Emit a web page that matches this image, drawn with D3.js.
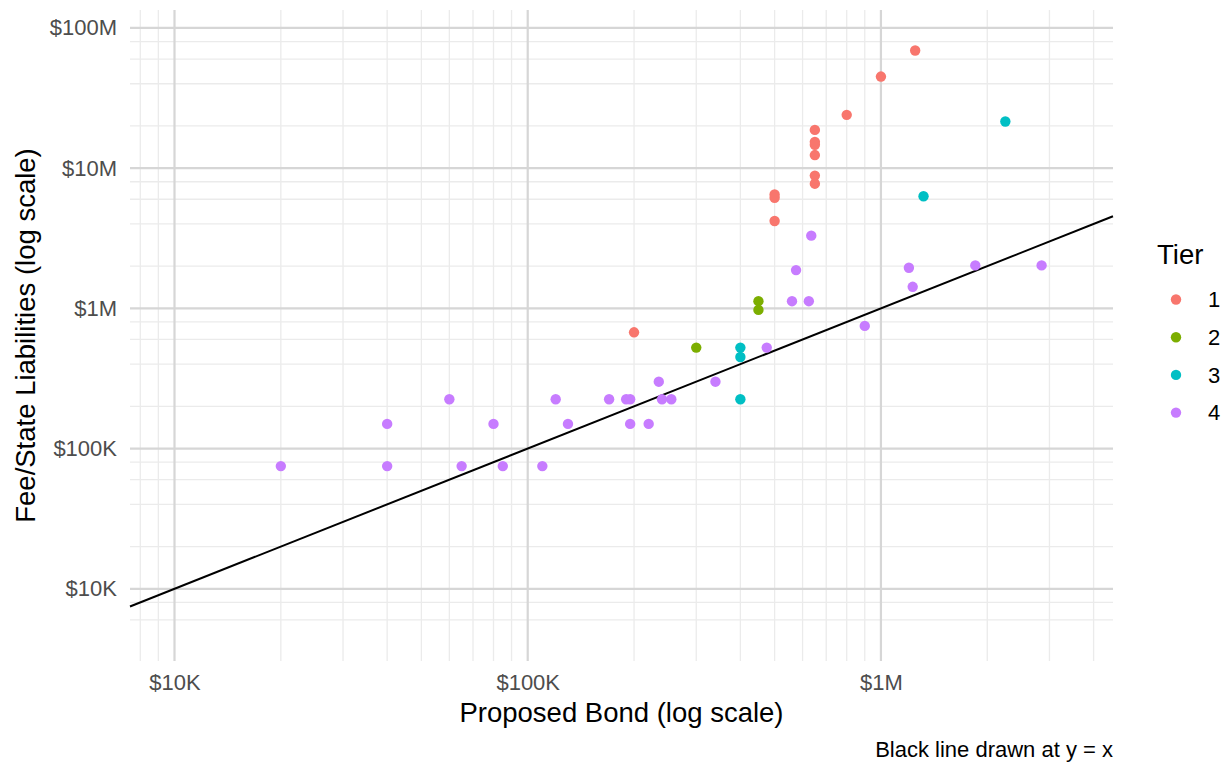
<!DOCTYPE html>
<html lang="en">
<head>
  <meta charset="UTF-8">
  <title>Proposed Bond vs Fee/State Liabilities</title>
  <script src="https://d3js.org/d3.v7.min.js"></script>
  <style>
    body, html { margin: 0; background: #fff; }
    svg { display: block; font-family: "Liberation Sans", Arial, sans-serif; }
  </style>
</head>
<body>
  <svg width="1224" height="763"></svg>
  <script>
    // values (bond, liabilities) per tier
    const tier1Bond = [1250000, 1000000, 800000, 650000, 650000, 650000, 650000, 650000, 650000, 500000, 500000, 500000, 200000];
    const tier1Liab = [69000000, 45000000, 24000000, 18750000, 15400000, 14700000, 12400000, 8850000, 7750000, 6500000, 6150000, 4200000, 675000];
    const tier2Bond = [450000, 450000, 300000];
    const tier2Liab = [1125000, 975000, 525000];
    const tier3Bond = [2250000, 1320000, 400000, 400000, 400000];
    const tier3Liab = [21500000, 6300000, 525000, 450000, 225000];
    const tier4Bond = [635000, 575000, 1200000, 1850000, 2850000, 1230000, 560000, 625000, 900000, 475000,
                       340000, 235000, 170000, 190000, 195000, 240000, 255000, 195000, 220000,
                       20000, 40000, 40000, 60000, 65000, 80000, 85000, 110000, 120000, 130000];
    const tier4Liab = [3300000, 1875000, 1950000, 2025000, 2025000, 1425000, 1125000, 1125000, 750000, 525000,
                       300000, 300000, 225000, 225000, 225000, 225000, 225000, 150000, 150000,
                       75000, 150000, 75000, 225000, 75000, 150000, 75000, 75000, 225000, 150000];

    const tiers = ["1", "2", "3", "4"];
    const tierColors = ["#F8766D", "#7CAE00", "#00BFC4", "#C77CFF"];

    const xBreaks = [1e4, 1e5, 1e6];
    const xLabels = ["$10K", "$100K", "$1M"];
    const yBreaks = [1e4, 1e5, 1e6, 1e7, 1e8];
    const yLabels = ["$10K", "$100K", "$1M", "$10M", "$100M"];
    const xMinor = [8e3, 9e3, 2e4, 3e4, 4e4, 5e4, 6e4, 7e4, 8e4, 9e4,
                    2e5, 3e5, 4e5, 5e5, 6e5, 7e5, 8e5, 9e5, 2e6, 3e6, 4e6];
    const yMinor = [6e3, 8e3, 2e4, 4e4, 6e4, 8e4, 2e5, 4e5, 6e5, 8e5,
                    2e6, 4e6, 6e6, 8e6, 2e7, 4e7, 6e7, 8e7];

    const points = [
      ...tier1Bond.map((b, i) => ({bond: b, liab: tier1Liab[i], tier: "1"})),
      ...tier2Bond.map((b, i) => ({bond: b, liab: tier2Liab[i], tier: "2"})),
      ...tier3Bond.map((b, i) => ({bond: b, liab: tier3Liab[i], tier: "3"})),
      ...tier4Bond.map((b, i) => ({bond: b, liab: tier4Liab[i], tier: "4"}))
    ];

    const svg = d3.select("svg");
    const panel = {left: 130, right: 1113, top: 10, bottom: 661};

    const x = d3.scaleLog()
      .domain([Math.pow(10, 3.874), Math.pow(10, 6.657)])
      .range([panel.left, panel.right]);
    const y = d3.scaleLog()
      .domain([Math.pow(10, 3.485), Math.pow(10, 8.128)])
      .range([panel.bottom, panel.top]);
    const color = d3.scaleOrdinal().domain(tiers).range(tierColors);

    // grid lines, minor first
    const grid = svg.append("g");
    grid.selectAll(".vminor").data(xMinor).enter().append("line")
      .attr("x1", d => x(d)).attr("x2", d => x(d))
      .attr("y1", panel.top).attr("y2", panel.bottom)
      .attr("stroke", "#ebebeb").attr("stroke-width", 1.3);
    grid.selectAll(".hminor").data(yMinor).enter().append("line")
      .attr("y1", d => y(d)).attr("y2", d => y(d))
      .attr("x1", panel.left).attr("x2", panel.right)
      .attr("stroke", "#ebebeb").attr("stroke-width", 1.3);
    grid.selectAll(".vmajor").data(xBreaks).enter().append("line")
      .attr("x1", d => x(d)).attr("x2", d => x(d))
      .attr("y1", panel.top).attr("y2", panel.bottom)
      .attr("stroke", "#d6d6d6").attr("stroke-width", 2.2);
    grid.selectAll(".hmajor").data(yBreaks).enter().append("line")
      .attr("y1", d => y(d)).attr("y2", d => y(d))
      .attr("x1", panel.left).attr("x2", panel.right)
      .attr("stroke", "#d6d6d6").attr("stroke-width", 2.2);

    // axes (labels only)
    const xAxis = svg.append("g")
      .attr("transform", `translate(0,${panel.bottom})`)
      .call(d3.axisBottom(x).tickValues(xBreaks).tickSize(0).tickPadding(13)
        .tickFormat((d, i) => xLabels[i]));
    const yAxis = svg.append("g")
      .attr("transform", `translate(${panel.left},0)`)
      .call(d3.axisLeft(y).tickValues(yBreaks).tickSize(0).tickPadding(13)
        .tickFormat((d, i) => yLabels[i]));
    [xAxis, yAxis].forEach(a => {
      a.select(".domain").remove();
      a.selectAll("text").attr("fill", "#4d4d4d")
        .style("font-size", "22px").style("font-family", "'Liberation Sans', Arial, sans-serif");
    });

    // y = x reference line
    const xd = x.domain();
    svg.append("line")
      .attr("x1", x(xd[0])).attr("y1", y(xd[0]))
      .attr("x2", x(xd[1])).attr("y2", y(xd[1]))
      .attr("stroke", "#000").attr("stroke-width", 2);

    // points
    svg.append("g").selectAll("circle")
      .data(points).enter().append("circle")
      .attr("cx", d => x(d.bond))
      .attr("cy", d => y(d.liab))
      .attr("r", 5.2)
      .attr("fill", d => color(d.tier));

    // axis titles
    svg.append("text")
      .attr("x", (panel.left + panel.right) / 2).attr("y", 722)
      .attr("text-anchor", "middle").style("font-size", "27.5px")
      .text("Proposed Bond (log scale)");
    svg.append("text")
      .attr("transform", `translate(35,${(panel.top + panel.bottom) / 2}) rotate(-90)`)
      .attr("text-anchor", "middle").style("font-size", "27.5px")
      .text("Fee/State Liabilities (log scale)");

    // caption
    svg.append("text")
      .attr("x", panel.right).attr("y", 757)
      .attr("text-anchor", "end").style("font-size", "22px")
      .text("Black line drawn at y = x");

    // legend
    const legend = svg.append("g");
    legend.append("text")
      .attr("x", 1157).attr("y", 264)
      .style("font-size", "27.5px")
      .text("Tier");
    const items = legend.selectAll(".item").data(tiers).enter().append("g")
      .attr("transform", (d, i) => `translate(1176,${299.5 + i * 37.7})`);
    items.append("circle").attr("r", 5.2).attr("fill", d => color(d));
    items.append("text")
      .attr("x", 32).attr("dy", "0.35em")
      .style("font-size", "22px")
      .text(d => d);
  </script>
</body>
</html>
